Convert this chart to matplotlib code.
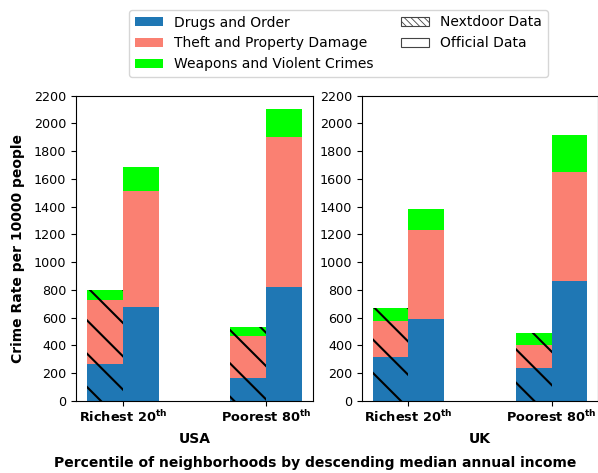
import matplotlib
matplotlib.use('Agg')
import matplotlib.pyplot as plt
from matplotlib.patches import Patch
import numpy as np

# Crime rate per 10000 people
groups = ['Richest 20$^{\\mathbf{th}}$', 'Poorest 80$^{\\mathbf{th}}$']
countries = ['USA', 'UK']
categories = ['Drugs and Order', 'Theft and Property Damage', 'Weapons and Violent Crimes']
colors = ['#1f77b4', 'salmon', 'lime']

# [richest, poorest] for each category
usa_nextdoor = {'Drugs and Order': [270, 165],
                'Theft and Property Damage': [460, 305],
                'Weapons and Violent Crimes': [70, 60]}
usa_official = {'Drugs and Order': [675, 820],
                'Theft and Property Damage': [840, 1082],
                'Weapons and Violent Crimes': [172, 205]}
uk_nextdoor = {'Drugs and Order': [320, 236],
               'Theft and Property Damage': [260, 164],
               'Weapons and Violent Crimes': [93, 88]}
uk_official = {'Drugs and Order': [588, 866],
               'Theft and Property Damage': [646, 782],
               'Weapons and Violent Crimes': [150, 272]}

plt.rcParams['hatch.linewidth'] = 1.5
plt.rcParams['hatch.color'] = 'black'

fig = plt.figure(figsize=(5.98, 4.73), dpi=100)
ax1 = fig.add_axes([76 / 598, 72 / 473, 237 / 598, 305.3 / 473])
ax2 = fig.add_axes([362 / 598, 72 / 473, 236 / 598, 305.3 / 473])

x = np.arange(len(groups))
w = 0.25

def stacked(ax, data, xpos, hatch):
    bottom = np.zeros(len(groups))
    for cat, col in zip(categories, colors):
        vals = np.array(data[cat])
        ax.bar(xpos, vals, w, bottom=bottom, color=col, hatch=hatch,
               edgecolor='black' if hatch else col, linewidth=0)
        bottom += vals

for ax, nd, off, name in [(ax1, usa_nextdoor, usa_official, 'USA'),
                          (ax2, uk_nextdoor, uk_official, 'UK')]:
    stacked(ax, nd, x - w / 2, '\\')
    stacked(ax, off, x + w / 2, None)
    ax.set_ylim(0, 2200)
    ax.set_yticks(np.arange(0, 2201, 200))
    ax.set_xticks(x)
    ax.set_xticklabels(groups, fontweight='bold', fontsize=9.3)
    ax.tick_params(axis='y', labelsize=9.2)
    ax.tick_params(axis='x', pad=2.5)
    ax.set_xlabel(name, fontweight='bold', fontsize=10, labelpad=5)

ax1.set_ylabel('Crime Rate per 10000 people', fontweight='bold', fontsize=10, labelpad=6)

fig.text(315 / 598, 1 - 463 / 473, 'Percentile of neighborhoods by descending median annual income',
         ha='center', va='center', fontweight='bold', fontsize=10)

plt.rcParams['hatch.linewidth'] = 0.6
handles = [Patch(facecolor=c, label=l) for c, l in zip(colors, categories)]
handles.append(Patch(facecolor='white', edgecolor='#444444', hatch='\\\\\\\\\\',
                     linewidth=0.8, label='Nextdoor Data'))
handles.append(Patch(facecolor='white', edgecolor='#444444', linewidth=0.8,
                     label='Official Data'))
fig.legend(handles=handles, ncol=2, loc='upper center',
           bbox_to_anchor=(338.5 / 598, 1 - 3 / 473), fontsize=10)

fig.savefig('out.png', dpi=100)
